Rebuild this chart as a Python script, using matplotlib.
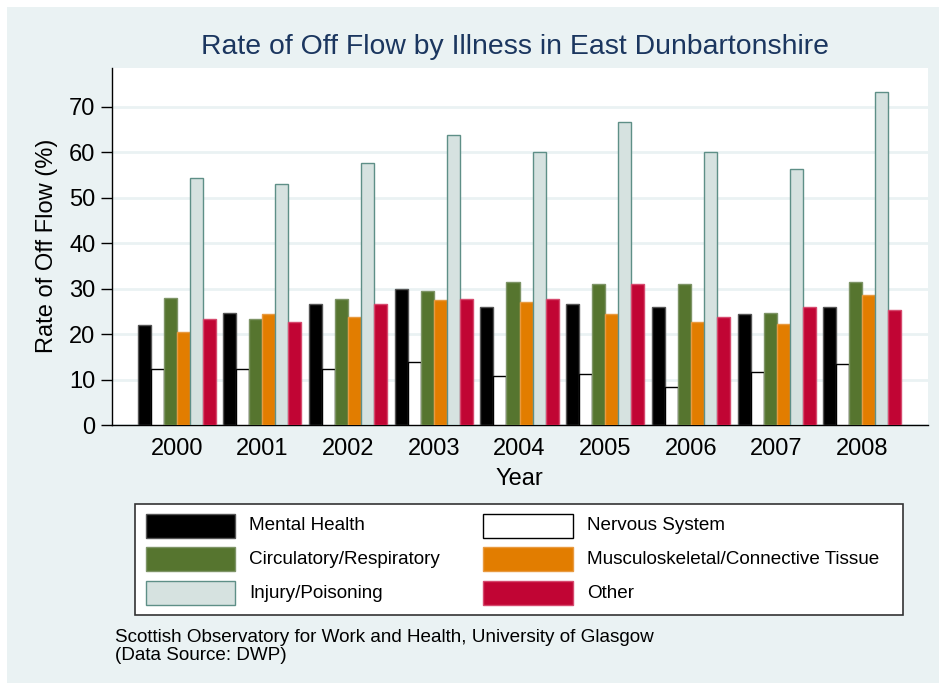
import matplotlib
matplotlib.use("Agg")
import matplotlib.pyplot as plt
from matplotlib.patches import Rectangle
import numpy as np

plt.rcParams['font.family'] = ['Liberation Sans', 'DejaVu Sans']

years = ["2000", "2001", "2002", "2003", "2004", "2005", "2006", "2007", "2008"]
mental_health = [21.9, 24.7, 26.6, 29.8, 25.9, 26.6, 26.0, 24.4, 26.0]
nervous_system = [12.4, 12.4, 12.3, 13.8, 10.8, 11.3, 8.4, 11.7, 13.5]
circulatory = [27.9, 23.2, 27.8, 29.4, 31.4, 30.9, 30.9, 24.6, 31.4]
musculoskeletal = [20.4, 24.4, 23.7, 27.4, 27.0, 24.3, 22.6, 22.3, 28.6]
injury = [54.3, 53.0, 57.6, 63.8, 59.9, 66.5, 59.9, 56.3, 73.2]
other = [23.2, 22.6, 26.6, 27.6, 27.6, 30.9, 23.7, 25.9, 25.3]

labels = ["Mental Health", "Nervous System", "Circulatory/Respiratory",
          "Musculoskeletal/Connective Tissue", "Injury/Poisoning", "Other"]
series = [mental_health, nervous_system, circulatory, musculoskeletal, injury, other]
bar_order = [0, 1, 2, 3, 4, 5]
fills = ["#000000", "#FFFFFF", "#56752F", "#E27D00", "#D6E2E0", "#C10534"]
edges = ["#555555", "#000000", "#7E9466", "#E89A40", "#5E8F87", "#D64A6E"]

BG = "#EAF2F3"
W, H = 939, 683
fig = plt.figure(figsize=(W / 100, H / 100), dpi=100)
fig.patch.set_facecolor("white")
fig.patches.append(Rectangle((7 / W, -0.01), 1.02 - 7 / W, 1.01 - 7 / H, transform=fig.transFigure,
                             facecolor=BG, edgecolor="none", zorder=-10))

def fx(px):
    return px / W

def fy(py):
    return 1 - py / H

ax = fig.add_axes([fx(112), fy(425), fx(927.7) - fx(112), fy(68.3) - fy(425)])
ax.set_facecolor("white")

x = np.arange(len(years))
w = 0.152
for k, si in enumerate(bar_order):
    ax.bar(x + (k - 2.5) * w, series[si], width=w, color=fills[si],
           edgecolor=edges[si], linewidth=1.0, zorder=3)

ax.set_xlim(-0.755, 8.763)
ax.set_ylim(0, 78.4)
ax.set_yticks(range(0, 71, 10))
ax.yaxis.grid(True, color=BG, linewidth=2.0, zorder=0)
ax.set_axisbelow(True)
ax.set_xticks(x)
ax.set_xticklabels(years)
ax.tick_params(axis='x', length=0, pad=9, labelsize=17)
ax.tick_params(axis='y', length=8, width=1, direction='out', pad=4, labelsize=17)
for s in ["top", "right"]:
    ax.spines[s].set_visible(False)
ax.spines["left"].set_color("black")
ax.spines["bottom"].set_color("black")
ax.spines["left"].set_linewidth(1.0)
ax.spines["bottom"].set_linewidth(1.0)

fig.text(fx(47.5), fy(246), "Rate of Off Flow (%)", rotation=90, ha="center", va="center", fontsize=17)
fig.text(fx(519), fy(479), "Year", ha="center", va="center", fontsize=17)
fig.text(fx(515), fy(47), "Rate of Off Flow by Illness in East Dunbartonshire",
         ha="center", va="center", fontsize=20.4, color="#1B365F")

# legend box
fig.patches.append(Rectangle((fx(135), fy(615)), fx(903) - fx(135), fy(504) - fy(615),
                             transform=fig.transFigure, facecolor="white",
                             edgecolor="#333333", linewidth=1.2, zorder=5))
leg_rows = [526, 559, 593]
leg_cols = [(146, 249), (483, 587)]
leg_layout = [[0, 1], [2, 3], [4, 5]]
for r, row in enumerate(leg_layout):
    for c, si in enumerate(row):
        sx, tx = leg_cols[c]
        yc = leg_rows[r]
        fig.patches.append(Rectangle((fx(sx), fy(yc + 12.3)), fx(89.5), 24.6 / H,
                                     transform=fig.transFigure, facecolor=fills[si],
                                     edgecolor=edges[si] if si != 1 else "#000000",
                                     linewidth=1.0, zorder=6))
        fig.text(fx(tx), fy(yc), labels[si], ha="left", va="center", fontsize=13.6, zorder=7)

fig.text(fx(115), fy(637), "Scottish Observatory for Work and Health, University of Glasgow",
         ha="left", va="center", fontsize=13.6)
fig.text(fx(115), fy(656), "(Data Source: DWP)", ha="left", va="center", fontsize=13.6)

fig.savefig("out.png", dpi=100, facecolor=fig.get_facecolor())
